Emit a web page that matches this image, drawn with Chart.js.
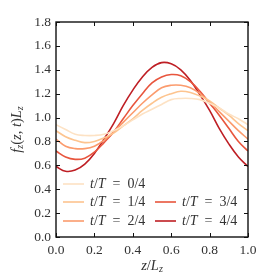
<!DOCTYPE html>
<html>
<head>
<meta charset="utf-8">
<script src="https://cdn.jsdelivr.net/npm/chart.js@4.4.1/dist/chart.umd.min.js"></script>
<style>
  html, body { margin: 0; padding: 0; background: #fff; }
  #wrap { width: 262px; height: 280px; }
</style>
</head>
<body>
<div id="wrap"><canvas id="myChart" width="262" height="280"></canvas></div>
<script>
// z / L_z positions
const Z = [0.00, 0.05, 0.10, 0.15, 0.20, 0.25, 0.30, 0.35, 0.40, 0.45, 0.50,
           0.55, 0.60, 0.65, 0.70, 0.75, 0.80, 0.85, 0.90, 0.95, 1.00];

// f_z(z,t) L_z, one array per time
const T0 = [0.94, 0.90, 0.86, 0.85, 0.85, 0.86, 0.89, 0.93, 0.98, 1.03, 1.07,
            1.11, 1.15, 1.16, 1.16, 1.15, 1.12, 1.08, 1.03, 0.99, 0.94];
const T1 = [0.89, 0.84, 0.81, 0.79, 0.80, 0.83, 0.87, 0.93, 0.99, 1.06, 1.12,
            1.17, 1.20, 1.22, 1.21, 1.18, 1.14, 1.08, 1.02, 0.95, 0.89];
const T2 = [0.82, 0.76, 0.74, 0.74, 0.76, 0.81, 0.88, 0.96, 1.04, 1.12, 1.19,
            1.25, 1.27, 1.27, 1.25, 1.20, 1.13, 1.05, 0.97, 0.89, 0.82];
const T3 = [0.72, 0.67, 0.65, 0.66, 0.71, 0.79, 0.88, 0.99, 1.10, 1.20, 1.29,
            1.34, 1.36, 1.35, 1.30, 1.22, 1.12, 1.02, 0.91, 0.80, 0.72];
const T4 = [0.59, 0.55, 0.56, 0.61, 0.70, 0.82, 0.95, 1.10, 1.23, 1.34, 1.42,
            1.46, 1.45, 1.40, 1.31, 1.19, 1.06, 0.91, 0.78, 0.67, 0.59];

const SERIES = [T0, T1, T2, T3, T4];
const LABELS = ['t/T = 0/4', 't/T = 1/4', 't/T = 2/4', 't/T = 3/4', 't/T = 4/4'];
const COLORS = ['#fde2c4', '#fdc48f', '#fb9b6d', '#e8553d', '#be1e24'];

const X_TICKS = [0.0, 0.2, 0.4, 0.6, 0.8, 1.0];
const Y_TICKS = [0.0, 0.2, 0.4, 0.6, 0.8, 1.0, 1.2, 1.4, 1.6, 1.8];

const FONT = '"Liberation Serif", "DejaVu Serif", serif';

// draw text made of pieces: {t, it (italic), sub}
function mathWidth(ctx, parts, size) {
  let w = 0;
  parts.forEach(p => {
    const s = p.sub ? size * 0.7 : size;
    ctx.font = (p.it ? 'italic ' : '') + s + 'px ' + FONT;
    w += ctx.measureText(p.t).width;
  });
  return w;
}
function drawMath(ctx, parts, x, y, size) {
  parts.forEach(p => {
    const s = p.sub ? size * 0.7 : size;
    ctx.font = (p.it ? 'italic ' : '') + s + 'px ' + FONT;
    ctx.fillText(p.t, x, p.sub ? y + size * 0.25 : y);
    x += ctx.measureText(p.t).width;
  });
}
// "t/T = 0/4" -> letters in italic
function labelParts(str) {
  const out = [];
  for (const ch of str.replace(/ /g, '')) {
    const it = /[a-zA-Z]/.test(ch);
    const last = out[out.length - 1];
    if (last && last.it === it) last.t += ch;
    else out.push({t: ch, it: it});
  }
  return out.map(p => ({t: p.t.replace('=', '\u2002=\u2002'), it: p.it}));
}

const frameAndTicks = {
  id: 'frameAndTicks',
  afterDraw(chart) {
    const ctx = chart.ctx;
    const a = chart.chartArea;
    const xs = chart.scales.x, ys = chart.scales.y;
    ctx.save();
    ctx.strokeStyle = '#111';
    ctx.lineWidth = 1;
    ctx.beginPath();
    X_TICKS.forEach(v => {
      const px = Math.round(xs.getPixelForValue(v)) + 0.5;
      ctx.moveTo(px, a.bottom); ctx.lineTo(px, a.bottom - 4);
      ctx.moveTo(px, a.top); ctx.lineTo(px, a.top + 4);
    });
    Y_TICKS.forEach(v => {
      const py = Math.round(ys.getPixelForValue(v)) + 0.5;
      ctx.moveTo(a.left, py); ctx.lineTo(a.left + 4, py);
      ctx.moveTo(a.right, py); ctx.lineTo(a.right - 4, py);
    });
    ctx.stroke();
    ctx.lineWidth = 1.4;
    ctx.strokeRect(a.left, a.top, a.right - a.left, a.bottom - a.top);

    // axis titles
    ctx.fillStyle = '#333';
    ctx.textBaseline = 'middle';
    const xt = [{t: 'z', it: true}, {t: '/', it: false}, {t: 'L', it: true}, {t: 'z', it: true, sub: true}];
    const wx = mathWidth(ctx, xt, 14.5);
    drawMath(ctx, xt, (a.left + a.right) / 2 - wx / 2, 266, 14.5);

    const yt = [{t: 'f', it: true}, {t: 'z', it: true, sub: true}, {t: '(', it: false},
                {t: 'z', it: true}, {t: ', ', it: false}, {t: 't', it: true},
                {t: ')', it: false}, {t: 'L', it: true}, {t: 'z', it: true, sub: true}];
    const wy = mathWidth(ctx, yt, 14.5);
    ctx.save();
    ctx.translate(17, (a.top + a.bottom) / 2);
    ctx.rotate(-Math.PI / 2);
    drawMath(ctx, yt, -wy / 2, 0, 14.5);
    ctx.restore();

    // legend: two columns, second column starts on row two
    const slots = [[63, 184], [63, 202], [63, 221], [155, 202], [155, 221]];
    chart.data.datasets.forEach((ds, i) => {
      const [lx, ly] = slots[i];
      ctx.strokeStyle = ds.borderColor;
      ctx.lineWidth = 1.6;
      ctx.beginPath();
      ctx.moveTo(lx, ly); ctx.lineTo(lx + 21, ly);
      ctx.stroke();
      ctx.fillStyle = '#333';
      drawMath(ctx, labelParts(ds.label), lx + 27, ly, 14);
    });
    ctx.restore();
  }
};

const datasets = SERIES.map((s, i) => ({
  label: LABELS[i],
  data: Z.map((z, j) => ({x: z, y: s[j]})),
  borderColor: COLORS[i],
  borderWidth: 1.6,
  pointRadius: 0,
  fill: false,
  tension: 0.4
}));

const config = {
  type: 'line',
  data: { datasets: datasets },
  options: {
    responsive: false,
    animation: false,
    layout: { padding: { top: 22, right: 14, left: 0, bottom: 0 } },
    plugins: {
      legend: { display: false },
      tooltip: { enabled: false }
    },
    scales: {
      x: {
        type: 'linear',
        min: 0, max: 1,
        grid: { display: false, drawTicks: false },
        border: { display: false },
        afterFit: (s) => { s.height = 43; },
        afterBuildTicks: (s) => { s.ticks = X_TICKS.map(v => ({value: v})); },
        ticks: {
          padding: 5,
          maxRotation: 0,
          color: '#333',
          font: { family: FONT, size: 13.5 },
          callback: (v) => v.toFixed(1)
        }
      },
      y: {
        min: 0, max: 1.8,
        grid: { display: false, drawTicks: false },
        border: { display: false },
        afterFit: (s) => { s.width = 56; },
        afterBuildTicks: (s) => { s.ticks = Y_TICKS.map(v => ({value: v})); },
        ticks: {
          padding: 5,
          color: '#333',
          font: { family: FONT, size: 13.5 },
          callback: (v) => v.toFixed(1)
        }
      }
    }
  },
  plugins: [frameAndTicks]
};

const myChart = new Chart(document.getElementById('myChart'), config);
</script>
</body>
</html>
